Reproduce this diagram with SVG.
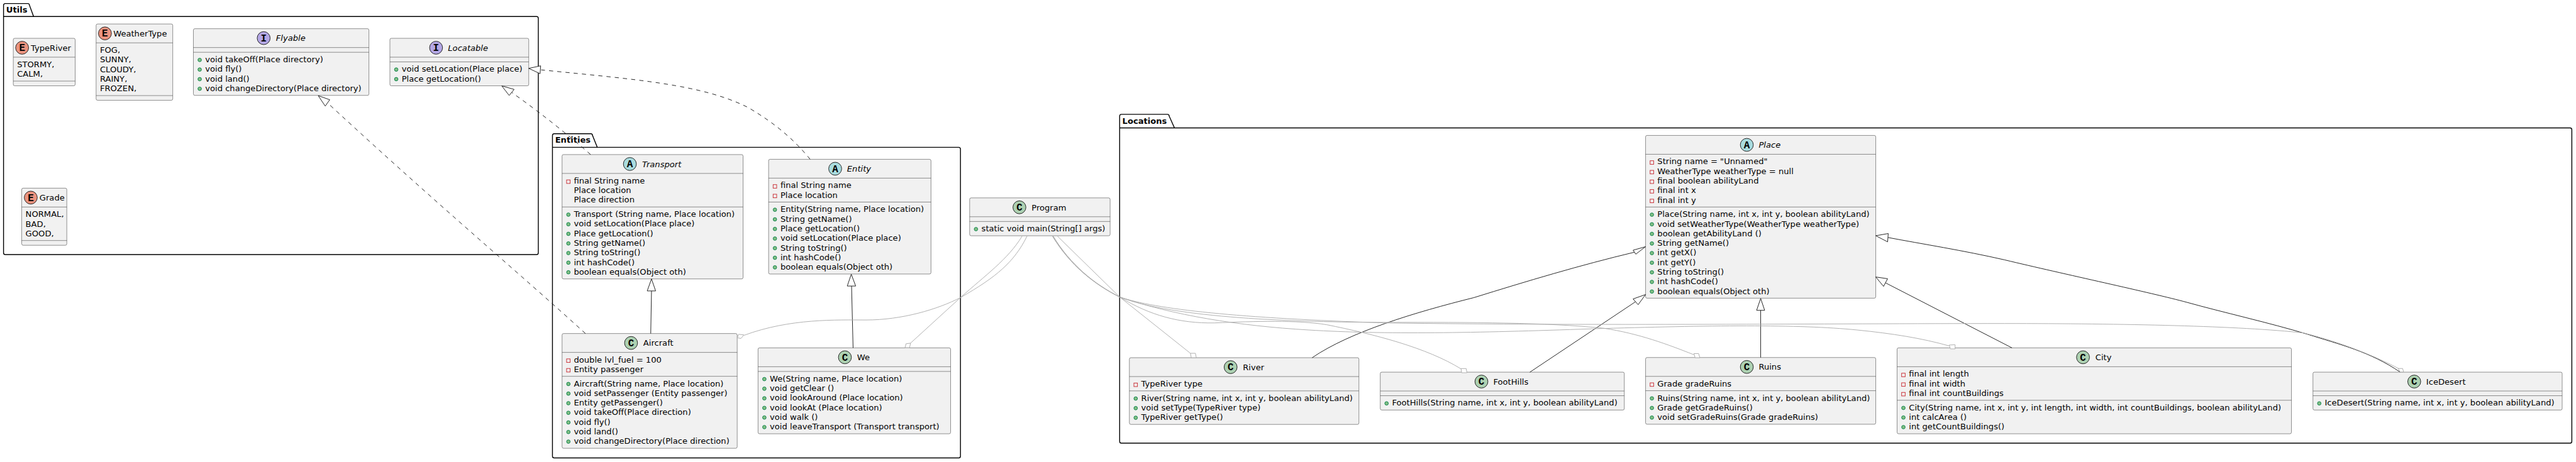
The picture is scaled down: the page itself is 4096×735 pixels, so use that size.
<svg xmlns="http://www.w3.org/2000/svg" width="4096" height="735" viewBox="0 0 4096 735">
<style>
text{font-family:"DejaVu Sans",sans-serif;font-size:14px;fill:#000}
.n{font-size:14px}.i{font-style:italic}
.l{font-family:"Liberation Mono","DejaVu Sans Mono",monospace;font-weight:bold;font-size:17px;text-anchor:middle}
.t{font-weight:bold}
.b{fill:#F1F1F1;stroke:#181818;stroke-width:.5}
.s{stroke:#181818;stroke-width:.5}
.p{fill:none;stroke:#000;stroke-width:1.5}
.cc{fill:#ADD1B2;stroke:#181818}.ca{fill:#A9DCDF;stroke:#181818}.ci{fill:#B4A7E5;stroke:#181818}.ce{fill:#EB937F;stroke:#181818}
.k{fill:none;stroke:#181818;stroke-width:1}
.d{stroke-dasharray:7,7}
.g{fill:none;stroke:#ABABAB;stroke-width:1}
.h{fill:#fff;stroke:#181818;stroke-width:1}
.q{fill:#fff;stroke:#ABABAB;stroke-width:1}
.pub{fill:#84BE84;stroke:#038048}
.pri{fill:none;stroke:#C82930}
</style>
<defs>
<circle id="u" class="pub" r="3"/>
<rect id="v" class="pri" x="-3" y="-3" width="6" height="6"/>
</defs>
<g transform="scale(.9375)">
<g id="packages">
<g id="pkg-utils"><path class="p" d="M6,31V9a3,3 0 0 1 3,-3H47a3,3 0 0 1 3,3L57,28H910a3,3 0 0 1 3,3V429a3,3 0 0 1 -3,3H9a3,3 0 0 1 -3,-3V28H57"/><text class="t" x="10.5" y="21">Utils</text></g>
<g id="pkg-entities"><path class="p" d="M937,252V230a3,3 0 0 1 3,-3H1002a3,3 0 0 1 3,3L1013,250H1626a3,3 0 0 1 3,3V774a3,3 0 0 1 -3,3H940a3,3 0 0 1 -3,-3V250H1013"/><text class="t" x="941.5" y="242">Entities</text></g>
<g id="pkg-locations"><path class="p" d="M1899,220V197a3,3 0 0 1 3,-3H1980a3,3 0 0 1 3,3L1992,217H4359a3,3 0 0 1 3,3V749a3,3 0 0 1 -3,3H1902a3,3 0 0 1 -3,-3V217H1992"/><text class="t" x="1903.5" y="210">Locations</text></g>
</g>

<g id="n-typeriver" transform="translate(22.5,65)"><rect class="b" width="105" height="80.6" rx="2.5"/><line class="s" y1="32" x2="105" y2="32"/><line class="s" y1="72.6" x2="105" y2="72.6"/><circle class="ce" cx="15" cy="16" r="11"/><text class="l" x="15" y="21.5">E</text><text x="29.7" y="21">TypeRiver</text><text x="6.5" y="49">STORMY,</text><text x="6.5" y="65.3">CALM,</text></g>
<g id="n-weathertype" transform="translate(163,40.7)"><rect class="b" width="130" height="129.5" rx="2.5"/><line class="s" y1="32" x2="130" y2="32"/><line class="s" y1="121.5" x2="130" y2="121.5"/><circle class="ce" cx="15" cy="16" r="11"/><text class="l" x="15" y="21.5">E</text><text x="29.2" y="21">WeatherType</text><text x="6.5" y="49">FOG,</text><text x="6.5" y="65.3">SUNNY,</text><text x="6.5" y="81.6">CLOUDY,</text><text x="6.5" y="97.9">RAINY,</text><text x="6.5" y="114.2">FROZEN,</text></g>
<g id="n-grade" transform="translate(36.8,319.3)"><rect class="b" width="76.5" height="96.9" rx="2.5"/><line class="s" y1="32" x2="76.5" y2="32"/><line class="s" y1="88.9" x2="76.5" y2="88.9"/><circle class="ce" cx="15.4" cy="16" r="11"/><text class="l" x="15.4" y="21.5">E</text><text x="30.2" y="21">Grade</text><text x="6.5" y="49">NORMAL,</text><text x="6.5" y="65.3">BAD,</text><text x="6.5" y="81.6">GOOD,</text></g>
<g id="n-flyable" transform="translate(328,48.7)"><rect class="b" width="297.7" height="113.2" rx="2.5"/><line class="s" y1="32" x2="297.7" y2="32"/><line class="s" y1="40" x2="297.7" y2="40"/><circle class="ci" cx="119.2" cy="16" r="11"/><text class="l" x="119.2" y="21.5">I</text><text class="i" x="140" y="21">Flyable</text><use href="#u" x="10.7" y="53"/><text x="20" y="57">void takeOff(Place directory)</text><use href="#u" x="10.7" y="69.3"/><text x="20" y="73.3">void fly()</text><use href="#u" x="10.7" y="85.6"/><text x="20" y="89.6">void land()</text><use href="#u" x="10.7" y="101.9"/><text x="20" y="105.9">void changeDirectory(Place directory)</text></g>
<g id="n-locatable" transform="translate(661.3,65)"><rect class="b" width="235.5" height="80.6" rx="2.5"/><line class="s" y1="32" x2="235.5" y2="32"/><line class="s" y1="40" x2="235.5" y2="40"/><circle class="ci" cx="78.3" cy="16" r="11"/><text class="l" x="78.3" y="21.5">I</text><text class="i" x="98.5" y="21">Locatable</text><use href="#u" x="10.7" y="53"/><text x="20" y="57">void setLocation(Place place)</text><use href="#u" x="10.7" y="69.3"/><text x="20" y="73.3">Place getLocation()</text></g>

<g id="n-transport" transform="translate(953.3,262.3)"><rect class="b" width="307" height="211" rx="2.5"/><line class="s" y1="32" x2="307" y2="32"/><line class="s" y1="88.9" x2="307" y2="88.9"/><circle class="ca" cx="115" cy="16" r="11"/><text class="l" x="115" y="21.5">A</text><text class="i" x="135.7" y="21">Transport</text><use href="#v" x="10.7" y="46"/><text x="20" y="49">final String name</text><text x="20" y="65.3">Place location</text><text x="20" y="81.6">Place direction</text><use href="#u" x="10.7" y="101.9"/><text x="20" y="105.9">Transport (String name, Place location)</text><use href="#u" x="10.7" y="118.2"/><text x="20" y="122.2">void setLocation(Place place)</text><use href="#u" x="10.7" y="134.5"/><text x="20" y="138.5">Place getLocation()</text><use href="#u" x="10.7" y="150.8"/><text x="20" y="154.8">String getName()</text><use href="#u" x="10.7" y="167.1"/><text x="20" y="171.1">String toString()</text><use href="#u" x="10.7" y="183.4"/><text x="20" y="187.4">int hashCode()</text><use href="#u" x="10.7" y="199.7"/><text x="20" y="203.7">boolean equals(Object oth)</text></g>
<g id="n-entity" transform="translate(1303.6,270.3)"><rect class="b" width="275.4" height="194.7" rx="2.5"/><line class="s" y1="32" x2="275.4" y2="32"/><line class="s" y1="72.6" x2="275.4" y2="72.6"/><circle class="ca" cx="112.9" cy="16" r="11"/><text class="l" x="112.9" y="21.5">A</text><text class="i" x="133" y="21">Entity</text><use href="#v" x="10.7" y="46"/><text x="20" y="49">final String name</text><use href="#v" x="10.7" y="62.3"/><text x="20" y="65.3">Place location</text><use href="#u" x="10.7" y="85.6"/><text x="20" y="89.6">Entity(String name, Place location)</text><use href="#u" x="10.7" y="101.9"/><text x="20" y="105.9">String getName()</text><use href="#u" x="10.7" y="118.2"/><text x="20" y="122.2">Place getLocation()</text><use href="#u" x="10.7" y="134.5"/><text x="20" y="138.5">void setLocation(Place place)</text><use href="#u" x="10.7" y="150.8"/><text x="20" y="154.8">String toString()</text><use href="#u" x="10.7" y="167.1"/><text x="20" y="171.1">int hashCode()</text><use href="#u" x="10.7" y="183.4"/><text x="20" y="187.4">boolean equals(Object oth)</text></g>
<g id="n-aircraft" transform="translate(953.3,566)"><rect class="b" width="297" height="194.7" rx="2.5"/><line class="s" y1="32" x2="297" y2="32"/><line class="s" y1="72.6" x2="297" y2="72.6"/><circle class="cc" cx="117" cy="16" r="11"/><text class="l" x="117" y="21.5">C</text><text x="137.7" y="21">Aircraft</text><use href="#v" x="10.7" y="46"/><text x="20" y="49">double lvl_fuel = 100</text><use href="#v" x="10.7" y="62.3"/><text x="20" y="65.3">Entity passenger</text><use href="#u" x="10.7" y="85.6"/><text x="20" y="89.6">Aircraft(String name, Place location)</text><use href="#u" x="10.7" y="101.9"/><text x="20" y="105.9">void setPassenger (Entity passenger)</text><use href="#u" x="10.7" y="118.2"/><text x="20" y="122.2">Entity getPassenger()</text><use href="#u" x="10.7" y="134.5"/><text x="20" y="138.5">void takeOff(Place direction)</text><use href="#u" x="10.7" y="150.8"/><text x="20" y="154.8">void fly()</text><use href="#u" x="10.7" y="167.1"/><text x="20" y="171.1">void land()</text><use href="#u" x="10.7" y="183.4"/><text x="20" y="187.4">void changeDirectory(Place direction)</text></g>
<g id="n-we" transform="translate(1285.7,590.3)"><rect class="b" width="326.6" height="145.8" rx="2.5"/><line class="s" y1="32" x2="326.6" y2="32"/><line class="s" y1="40" x2="326.6" y2="40"/><circle class="cc" cx="147.3" cy="16" r="11"/><text class="l" x="147.3" y="21.5">C</text><text x="168" y="21">We</text><use href="#u" x="10.7" y="53"/><text x="20" y="57">We(String name, Place location)</text><use href="#u" x="10.7" y="69.3"/><text x="20" y="73.3">void getClear ()</text><use href="#u" x="10.7" y="85.6"/><text x="20" y="89.6">void lookAround (Place location)</text><use href="#u" x="10.7" y="101.9"/><text x="20" y="105.9">void lookAt (Place location)</text><use href="#u" x="10.7" y="118.2"/><text x="20" y="122.2">void walk ()</text><use href="#u" x="10.7" y="134.5"/><text x="20" y="138.5">void leaveTransport (Transport transport)</text></g>
<g id="n-program" transform="translate(1644.6,335.8)"><rect class="b" width="238.2" height="64.3" rx="2.5"/><line class="s" y1="32" x2="238.2" y2="32"/><line class="s" y1="40" x2="238.2" y2="40"/><circle class="cc" cx="84.4" cy="16" r="11"/><text class="l" x="84.4" y="21.5">C</text><text x="105" y="21">Program</text><use href="#u" x="10.7" y="53"/><text x="20" y="57">static void main(String[] args)</text></g>

<g id="n-place" transform="translate(2791,229.8)"><rect class="b" width="390.4" height="276.2" rx="2.5"/><line class="s" y1="32" x2="390.4" y2="32"/><line class="s" y1="121.5" x2="390.4" y2="121.5"/><circle class="ca" cx="171.7" cy="16" r="11"/><text class="l" x="171.7" y="21.5">A</text><text class="i" x="191.8" y="21">Place</text><use href="#v" x="10.7" y="46"/><text x="20" y="49">String name = "Unnamed"</text><use href="#v" x="10.7" y="62.3"/><text x="20" y="65.3">WeatherType weatherType = null</text><use href="#v" x="10.7" y="78.6"/><text x="20" y="81.6">final boolean abilityLand</text><use href="#v" x="10.7" y="94.9"/><text x="20" y="97.9">final int x</text><use href="#v" x="10.7" y="111.2"/><text x="20" y="114.2">final int y</text><use href="#u" x="10.7" y="134.5"/><text x="20" y="138.5">Place(String name, int x, int y, boolean abilityLand)</text><use href="#u" x="10.7" y="150.8"/><text x="20" y="154.8">void setWeatherType(WeatherType weatherType)</text><use href="#u" x="10.7" y="167.1"/><text x="20" y="171.1">boolean getAbilityLand ()</text><use href="#u" x="10.7" y="183.4"/><text x="20" y="187.4">String getName()</text><use href="#u" x="10.7" y="199.7"/><text x="20" y="203.7">int getX()</text><use href="#u" x="10.7" y="216"/><text x="20" y="220">int getY()</text><use href="#u" x="10.7" y="232.3"/><text x="20" y="236.3">String toString()</text><use href="#u" x="10.7" y="248.6"/><text x="20" y="252.6">int hashCode()</text><use href="#u" x="10.7" y="264.9"/><text x="20" y="268.9">boolean equals(Object oth)</text></g>
<g id="n-river" transform="translate(1915.5,607)"><rect class="b" width="389.3" height="113.2" rx="2.5"/><line class="s" y1="32" x2="389.3" y2="32"/><line class="s" y1="56.3" x2="389.3" y2="56.3"/><circle class="cc" cx="171.7" cy="16" r="11"/><text class="l" x="171.7" y="21.5">C</text><text x="192.4" y="21">River</text><use href="#v" x="10.7" y="46"/><text x="20" y="49">TypeRiver type</text><use href="#u" x="10.7" y="69.3"/><text x="20" y="73.3">River(String name, int x, int y, boolean abilityLand)</text><use href="#u" x="10.7" y="85.6"/><text x="20" y="89.6">void setType(TypeRiver type)</text><use href="#u" x="10.7" y="101.9"/><text x="20" y="105.9">TypeRiver getType()</text></g>
<g id="n-foothills" transform="translate(2341,631.5)"><rect class="b" width="413.9" height="64.3" rx="2.5"/><line class="s" y1="32" x2="413.9" y2="32"/><line class="s" y1="40" x2="413.9" y2="40"/><circle class="cc" cx="171.6" cy="16" r="11"/><text class="l" x="171.6" y="21.5">C</text><text x="191.7" y="21">FootHills</text><use href="#u" x="10.7" y="53"/><text x="20" y="57">FootHills(String name, int x, int y, boolean abilityLand)</text></g>
<g id="n-ruins" transform="translate(2791,606.7)"><rect class="b" width="390.4" height="113.2" rx="2.5"/><line class="s" y1="32" x2="390.4" y2="32"/><line class="s" y1="56.3" x2="390.4" y2="56.3"/><circle class="cc" cx="171.7" cy="16" r="11"/><text class="l" x="171.7" y="21.5">C</text><text x="191.8" y="21">Ruins</text><use href="#v" x="10.7" y="46"/><text x="20" y="49">Grade gradeRuins</text><use href="#u" x="10.7" y="69.3"/><text x="20" y="73.3">Ruins(String name, int x, int y, boolean abilityLand)</text><use href="#u" x="10.7" y="85.6"/><text x="20" y="89.6">Grade getGradeRuins()</text><use href="#u" x="10.7" y="101.9"/><text x="20" y="105.9">void setGradeRuins(Grade gradeRuins)</text></g>
<g id="n-city" transform="translate(3217.6,590.3)"><rect class="b" width="668.8" height="145.8" rx="2.5"/><line class="s" y1="32" x2="668.8" y2="32"/><line class="s" y1="88.9" x2="668.8" y2="88.9"/><circle class="cc" cx="315.3" cy="16" r="11"/><text class="l" x="315.3" y="21.5">C</text><text x="336.3" y="21">City</text><use href="#v" x="10.7" y="46"/><text x="20" y="49">final int length</text><use href="#v" x="10.7" y="62.3"/><text x="20" y="65.3">final int width</text><use href="#v" x="10.7" y="78.6"/><text x="20" y="81.6">final int countBuildings</text><use href="#u" x="10.7" y="101.9"/><text x="20" y="105.9">City(String name, int x, int y, int length, int width, int countBuildings, boolean abilityLand)</text><use href="#u" x="10.7" y="118.2"/><text x="20" y="122.2">int calcArea ()</text><use href="#u" x="10.7" y="134.5"/><text x="20" y="138.5">int getCountBuildings()</text></g>
<g id="n-icedesert" transform="translate(3922.9,631.5)"><rect class="b" width="422.7" height="64.3" rx="2.5"/><line class="s" y1="32" x2="422.7" y2="32"/><line class="s" y1="40" x2="422.7" y2="40"/><circle class="cc" cx="171.8" cy="16" r="11"/><text class="l" x="171.8" y="21.5">C</text><text x="192.1" y="21">IceDesert</text><use href="#u" x="10.7" y="53"/><text x="20" y="57">IceDesert(String name, int x, int y, boolean abilityLand)</text></g>

<g id="connectors">
<path class="k d" d="M1374,270.3C1352,243 1320,212 1268,182C1190,143 1080,135 918,118.6"/>
<polygon class="h" points="896.7,116 917,111.7 916,125"/>
<path class="k d" d="M1001.7,262.3C965,230 915,190 868,157"/>
<polygon class="h" points="851,145.7 863.6,162 872,151.7"/>
<path class="k d" d="M993,566C880,463 745,350 555.5,174.6"/>
<polygon class="h" points="539.7,162.3 551.6,180 559.3,169.3"/>
<path class="k" d="M1103.7,566L1105,493.7"/>
<polygon class="h" points="1105,473.3 1097.7,493.7 1112,493.7"/>
<path class="k" d="M1446.9,590.3L1444.3,485.4"/>
<polygon class="h" points="1443.8,465.3 1437,485.4 1451.3,485.4"/>
<path class="k" d="M2225.5,607C2290,563 2400,530 2500,505C2590,477 2680,450 2772,428"/>
<polygon class="h" points="2791,418.6 2769.8,424.6 2774.4,431.3"/>
<path class="k" d="M2594.7,631.6L2774,512"/>
<polygon class="h" points="2791,499.8 2769.8,507.3 2778.4,517"/>
<path class="k" d="M2986.2,606.7V526.6"/>
<polygon class="h" points="2986.2,506.5 2979.3,526.6 2993,526.6"/>
<path class="k" d="M3412.4,590.3L3198,480"/>
<polygon class="h" points="3181.4,470 3201.5,473 3194.6,486"/>
<path class="k" d="M4070.6,631.3C4020,597 3970,585 3913,567C3850,548 3770,530 3709,513C3650,497 3500,465 3400,441C3330,425 3260,414 3202,403"/>
<polygon class="h" points="3181.4,400 3202.6,396.3 3201.5,410.4"/>

<path class="g" d="M1742,400.6C1720,445 1690,470 1629,505C1590,525 1530,543 1468.8,543C1420,543 1340,540 1262,569"/>
<polygon class="q" points="1250.7,573.3 1252.7,567.3 1261.7,568.3 1256.7,574.3"/>
<path class="g" d="M1733.6,400.6C1710,440 1670,468 1629,505L1544.3,582.3"/>
<polygon class="q" points="1535,590 1536.7,583.3 1544.3,582.3 1542.7,590"/>
<path class="g" d="M1793.3,400.6L1899,504L2019,599.5"/>
<polygon class="q" points="2019,599.5 2027.5,599.5 2029,607 2020.5,607"/>
<path class="g" d="M1785,400.6C1815,450 1855,482 1899,504C1950,535 2000,549 2060,548C2130,545 2200,543 2250,551C2330,567 2420,590 2478,626"/>
<polygon class="q" points="2478,625.4 2486.7,625.4 2488,632.5 2479,632.5"/>
<path class="g" d="M1785,400.6C1815,450 1855,482 1899,504C1990,540 2200,547 2350,547C2500,547 2620,547 2720,557C2780,566 2830,585 2873,602"/>
<polygon class="q" points="2873,600 2881,600 2883,607 2875,607"/>
<path class="g" d="M1786,400.6C1816,450 1856,482 1899,504C1960,525 2100,540 2350,548C2700,553 3100,549 3400,549C3600,549 3800,553 3907,565C3960,578 4020,600 4068,625.3"/>
<polygon class="q" points="4067.5,625.3 4075,625.3 4076.7,631.3 4070.6,631.3"/>
<path class="g" d="M1786,400.6C1816,450 1856,482 1899,504C1990,535 2100,553 2220,560C2350,568 2500,565 2700,558C2900,552 3050,550 3150,560C3210,566 3260,574 3306,587"/>
<polygon class="q" points="3306,585.5 3316,585 3316,592 3308,592"/>
</g>
</g>
</svg>
